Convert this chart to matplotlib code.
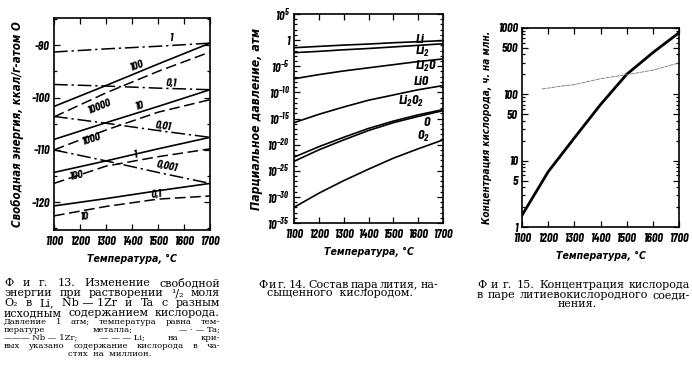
import numpy as np
import matplotlib
matplotlib.use('Agg')
import matplotlib.pyplot as plt
from matplotlib.font_manager import FontProperties
from matplotlib.ticker import FixedLocator, FixedFormatter, MultipleLocator, LogLocator, NullFormatter

narrow = 'Barlow Condensed'
plt.rcParams['font.family'] = [narrow, 'DejaVu Sans']
plt.rcParams['axes.unicode_minus'] = False
plt.rcParams['mathtext.fontset'] = 'custom'
plt.rcParams['mathtext.rm'] = narrow + ':italic:bold'
plt.rcParams['mathtext.it'] = narrow + ':italic:bold'
plt.rcParams['mathtext.bf'] = narrow + ':italic:bold'

# --- Fig. 13: free energy, kcal/g-atom O ---
t13 = [1100, 1300, 1500, 1700]
ta_ppm = ['1', '0,1', '0,01', '0,001']
ta_energy = [[-91.3, -90.7, -90.2, -89.6],
             [-97.5, -97.8, -98.2, -98.5],
             [-103.6, -104.9, -106.3, -107.6],
             [-110.0, -112.1, -114.3, -116.4]]
nb_ppm = ['100', '10', '1', '0,1']
nb_energy = [[-101.7, -97.7, -93.6, -89.6],
             [-108.0, -104.8, -101.7, -98.5],
             [-114.3, -112.1, -109.8, -107.6],
             [-120.7, -119.3, -117.8, -116.4]]
li_ppm = ['10000', '1000', '100', '10']
li_energy = [[-103.7, -99.1, -95.0, -91.3],
             [-110.0, -106.2, -102.8, -100.4],
             [-116.4, -113.1, -111.3, -109.8],
             [-122.6, -120.8, -119.4, -118.8]]

# label anchors (temperature, energy, rotation)
ta_lab = [(1548, -88.6, 0), (1552, -97.2, -3), (1520, -105.5, -8), (1533, -113.2, -12)]
nb_lab = [(1417, -94.0, 20), (1430, -101.5, 17), (1411, -111.0, 12), (1494, -118.5, 7)]
li_lab = [(1276, -101.7, 22), (1244, -108.0, 18), (1186, -115.0, 12), (1218, -122.7, 5)]

# --- Fig. 14: partial pressure (log10 atm) ---
t14 = [1100, 1200, 1300, 1400, 1500, 1600, 1700]
species = ['Li', 'Li$_2$', 'Li$_2$O', 'LiO', 'Li$_2$O$_2$', 'O', 'O$_2$']
log_p = [[-1.45, -1.2, -0.95, -0.75, -0.5, -0.3, -0.1],
         [-2.4, -2.15, -1.85, -1.6, -1.3, -1.0, -0.7],
         [-7.4, -6.6, -5.9, -5.3, -4.7, -4.1, -3.6],
         [-15.8, -14.2, -12.8, -11.5, -10.5, -9.5, -8.7],
         [-22.4, -20.4, -18.6, -16.9, -15.5, -14.3, -13.3],
         [-23.2, -21.0, -19.1, -17.3, -15.8, -14.6, -13.5],
         [-32.0, -29.3, -26.9, -24.7, -22.6, -20.8, -19.1]]
sp_lab = [(1606, 0.16), (1619, -2.1), (1633, -5.0), (1613, -7.9),
          (1572, -11.8), (1633, -15.8), (1622, -18.5)]

# --- Fig. 15: oxygen concentration, ppm ---
t15 = [1100, 1200, 1300, 1400, 1500, 1600, 1700]
conc = [1.5, 6.8, 22, 70, 200, 425, 850]
t15b = [1175, 1250, 1300, 1400, 1500, 1600, 1700]
conc_b = [120, 133, 140, 172, 198, 231, 298]

W, H = 692, 378
fig = plt.figure(figsize=(W / 100, H / 100), dpi=100)

tick_font = dict(family=[narrow, 'DejaVu Sans'], style='italic', weight='bold', size=9)
num_font = dict(family=[narrow, 'DejaVu Sans'], style='italic', weight='bold', size=8.6)
curve_font = dict(family=[narrow, 'DejaVu Sans'], style='italic', weight='bold', size=10)


def lab_font(size):
    return dict(family='DejaVu Sans', stretch='condensed', style='italic',
                weight='bold', size=size)


def box(l, t, r, b):
    return [l / W, 1 - b / H, (r - l) / W, (b - t) / H]


def style_axes(ax):
    ax.set_xlim(1100, 1700)
    ax.xaxis.set_major_locator(MultipleLocator(100))
    ax.tick_params(which='both', direction='in', top=True, right=True,
                   width=0.9)
    ax.tick_params(axis='x', pad=4)
    ax.tick_params(axis='y', pad=3)
    ax.tick_params(which='major', length=4)
    ax.tick_params(which='minor', length=2.5)
    for s in ax.spines.values():
        s.set_linewidth(1.2)
    for lb in ax.get_xticklabels() + ax.get_yticklabels():
        lb.set_fontproperties(FontProperties(**tick_font))
    ax.set_xlabel('Температура, °С', fontdict=lab_font(7.6), labelpad=5)


# panel 1
ax1 = fig.add_axes(box(54, 18, 210, 230))
for vals, lab, (x, y, r) in zip(ta_energy, ta_ppm, ta_lab):
    ax1.plot(t13, vals, color='k', lw=1.1, dashes=(9, 2.5, 1.5, 2.5))
    ax1.text(x, y, lab, ha='center', va='center', rotation=r, **num_font)
for vals, lab, (x, y, r) in zip(nb_energy, nb_ppm, nb_lab):
    ax1.plot(t13, vals, color='k', lw=1.2)
    ax1.text(x, y, lab, ha='center', va='center', rotation=r, **num_font)
for vals, lab, (x, y, r) in zip(li_energy, li_ppm, li_lab):
    ax1.plot(t13, vals, color='k', lw=1.1, dashes=(7, 3))
    ax1.text(x, y, lab, ha='center', va='center', rotation=r, **num_font)
ax1.set_ylim(-125.3, -84.8)
ax1.yaxis.set_major_locator(FixedLocator([-120, -110, -100, -90]))
ax1.yaxis.set_minor_locator(MultipleLocator(5))
ax1.set_ylabel('Свободная энергия, ккал/г-атом O', fontdict=lab_font(8.3), labelpad=5)
style_axes(ax1)

# panel 2
ax2 = fig.add_axes(box(294, 14, 443, 223))
ax2.set_yscale('log')
for lp in log_p:
    ax2.plot(t14, 10.0 ** np.array(lp), color='k', lw=1.2)
for name, (x, y) in zip(species, sp_lab):
    ax2.text(x, 10.0 ** y, name, ha='center', va='center', **curve_font)
ax2.set_ylim(1e-35, 1e5)
exps = np.arange(-35, 6, 5)
ax2.yaxis.set_major_locator(FixedLocator(10.0 ** exps))
ax2.yaxis.set_major_formatter(FixedFormatter(
    ['1' if e == 0 else '$10^{%d}$' % e for e in exps]))
ax2.yaxis.set_minor_locator(FixedLocator(10.0 ** np.arange(-35, 6)))
ax2.yaxis.set_minor_formatter(NullFormatter())
ax2.set_ylabel('Парциальное давление, атм', fontdict=lab_font(8.8), labelpad=3)
style_axes(ax2)

# panel 3
ax3 = fig.add_axes(box(522, 28, 679, 227))
ax3.set_yscale('log')
ax3.plot(t15, conc, color='k', lw=2.0)
ax3.plot(t15b, conc_b, color='0.45', lw=0.6, dashes=(5, 1))
ax3.set_ylim(1, 1000)
ax3.yaxis.set_major_locator(FixedLocator([1, 5, 10, 50, 100, 500, 1000]))
ax3.yaxis.set_major_formatter(FixedFormatter(['1', '5', '10', '50', '100', '500', '1000']))
ax3.yaxis.set_minor_locator(LogLocator(base=10, subs=np.arange(2, 10), numticks=20))
ax3.yaxis.set_minor_formatter(NullFormatter())
ax3.set_ylabel('Концентрация кислорода, ч. на млн.', fontdict=lab_font(7.2), labelpad=4)
style_axes(ax3)

# captions
renderer = fig.canvas.get_renderer()
serif = 'DejaVu Serif'


def justify(line, x0, x1, y, size):
    words = line.split('|')
    texts = [fig.text(0, 0, w, family=serif, size=size, va='center') for w in words]
    widths = [t.get_window_extent(renderer).width for t in texts]
    gap = (x1 - x0 - sum(widths)) / max(len(words) - 1, 1)
    x = x0
    for t, w in zip(texts, widths):
        t.set_position((x / W, 1 - y / H))
        x += w + gap


def centered(line, xc, y, size):
    fig.text(xc / W, 1 - y / H, line, family=serif, size=size, ha='center', va='center')


cap13 = ['Ф|и|г.|13.|Изменение|свободной',
         'энергии|при|растворении|¹/₂|моля',
         'O₂|в|Li,|Nb — 1Zr|и|Ta|с|разным',
         'исходным|содержанием|кислорода.']
for i, line in enumerate(cap13):
    justify(line, 4, 220, 283.5 + 10 * i, 8.0)
note13 = ['Давление|1|атм;|температура|равна|тем-',
          'пературе|металла;|— · — Ta;',
          '——— Nb — 1Zr;|— — — Li;|на|кри-',
          'вых|указано|содержание|кислорода|в|ча-']
for i, line in enumerate(note13):
    justify(line, 4, 220, 321.5 + 8.2 * i, 6.1)
centered('стях  на  миллион.', 110, 354.5, 6.1)

justify('Ф|и|г.|14.|Состав|пара|лития,|на-', 258, 438, 284.5, 8.0)
centered('сыщенного  кислородом.', 340, 293.5, 8.0)

justify('Ф|и|г.|15.|Концентрация|кислорода', 477, 690, 285, 8.0)
justify('в|паре|литиевокислородного|соеди-', 477, 690, 295, 8.0)
centered('нения.', 577, 304, 8.0)

fig.savefig('out.png', dpi=100)
